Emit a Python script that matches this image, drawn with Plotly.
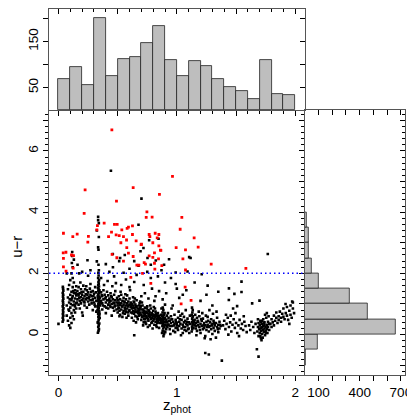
import plotly.graph_objects as go

# z_phot histogram: bins of 0.1 from 0 to 2 (counts)
z_bin_left = [0.0, 0.1, 0.2, 0.3, 0.4, 0.5, 0.6, 0.7, 0.8, 0.9,
              1.0, 1.1, 1.2, 1.3, 1.4, 1.5, 1.6, 1.7, 1.8, 1.9]
z_counts = [69, 95, 55, 201, 75, 113, 117, 148, 185, 110,
            76, 108, 97, 69, 52, 42, 26, 110, 36, 34]
z_width = 0.1

# u-r histogram: bins of 0.5 from -1 to 7 (counts)
ur_bin_low = [-1.0, -0.5, 0.0, 0.5, 1.0, 1.5, 2.0, 2.5,
              3.0, 3.5, 4.0, 4.5, 5.0, 5.5, 6.0, 6.5]
ur_counts = [5, 95, 664, 457, 331, 102, 54, 27, 32, 15, 3, 3, 2, 0, 0, 1]
ur_width = 0.5

ur_cut = 2.0

# scatter points (z_phot, u-r), read region by region
streak_004 = [(0.0, 0.35), (0.035, 0.42), (0.04, 0.48), (0.036, 0.55), (0.041, 0.61), (0.037, 0.67),
              (0.04, 0.73), (0.038, 0.80), (0.042, 0.86), (0.036, 0.92), (0.04, 0.98), (0.039, 1.05),
              (0.037, 1.11), (0.041, 1.17), (0.038, 1.24), (0.04, 1.30), (0.036, 1.36), (0.041, 1.43),
              (0.039, 1.50), (0.037, 1.56)]
cloud_010 = [(0.07, 0.62), (0.07, 0.95), (0.08, 1.21), (0.08, 0.45), (0.08, 1.48), (0.09, 0.30), (0.09, 0.78),
             (0.09, 1.05), (0.09, 1.62), (0.10, 0.22), (0.10, 0.55), (0.10, 0.88), (0.10, 1.30), (0.10, 1.78),
             (0.11, 0.70), (0.11, 1.12), (0.11, 1.40), (0.11, 0.38), (0.11, 2.00), (0.12, 0.96), (0.12, 1.25),
             (0.12, 0.60), (0.12, 1.55), (0.12, 1.85), (0.13, 0.80), (0.13, 1.08), (0.13, 1.35), (0.13, 1.70),
             (0.13, 0.50), (0.14, 1.18), (0.14, 0.92), (0.14, 1.45), (0.14, 0.72), (0.15, 1.28), (0.15, 1.02),
             (0.15, 1.58), (0.15, 0.85), (0.105, 1.00), (0.115, 1.20), (0.125, 1.42), (0.095, 1.15),
             (0.135, 0.98), (0.085, 0.82), (0.145, 1.36), (0.12, 2.20), (0.13, 2.45)]
band_025 = [(0.16, 1.15), (0.16, 1.42), (0.17, 0.98), (0.17, 1.28), (0.17, 1.55), (0.18, 1.10), (0.18, 1.35),
            (0.18, 0.85), (0.19, 1.22), (0.19, 1.48), (0.19, 1.02), (0.20, 1.30), (0.20, 1.12), (0.20, 0.72),
            (0.21, 1.40), (0.21, 1.18), (0.21, 1.60), (0.22, 0.95), (0.22, 1.25), (0.22, 1.05), (0.23, 1.32),
            (0.23, 1.15), (0.24, 1.45), (0.24, 0.88), (0.24, 1.20), (0.25, 1.08), (0.25, 1.38), (0.25, 1.92),
            (0.26, 1.22), (0.26, 0.98), (0.27, 1.30), (0.27, 1.12), (0.27, 1.65), (0.28, 1.02), (0.28, 1.25),
            (0.29, 0.80), (0.29, 1.15), (0.29, 1.42), (0.30, 1.05), (0.30, 1.33), (0.31, 0.92), (0.31, 1.20),
            (0.31, 1.55), (0.32, 1.10), (0.32, 0.75), (0.185, 1.70), (0.235, 1.58), (0.205, 0.62),
            (0.265, 1.50), (0.175, 2.00)]
streak_034 = [(0.333, 0.06), (0.338, 0.12), (0.342, 0.18), (0.336, 0.25), (0.340, 0.30), (0.345, 0.36),
              (0.334, 0.41), (0.339, 0.47), (0.343, 0.52), (0.337, 0.57), (0.341, 0.62), (0.335, 0.68),
              (0.338, 0.72), (0.344, 0.77), (0.336, 0.82), (0.340, 0.86), (0.333, 0.90), (0.342, 0.95),
              (0.337, 0.99), (0.339, 1.03), (0.345, 1.07), (0.334, 1.11), (0.341, 1.15), (0.336, 1.19),
              (0.343, 1.23), (0.338, 1.27), (0.335, 1.31), (0.340, 1.35), (0.344, 1.39), (0.337, 1.43),
              (0.339, 1.48), (0.334, 1.52), (0.342, 1.57), (0.336, 1.61), (0.340, 1.66), (0.338, 1.72),
              (0.343, 1.78), (0.335, 1.85), (0.339, 1.93), (0.337, 2.02), (0.341, 2.10), (0.332, 0.39),
              (0.346, 0.66), (0.331, 0.93), (0.347, 1.09), (0.332, 1.25), (0.346, 1.45), (0.348, 0.55),
              (0.330, 0.80), (0.347, 1.00)]
band_045 = [(0.35, 1.20), (0.35, 0.95), (0.36, 1.10), (0.36, 1.38), (0.37, 0.82), (0.37, 1.25), (0.37, 1.02),
            (0.38, 1.15), (0.38, 1.45), (0.39, 0.92), (0.39, 1.30), (0.40, 1.05), (0.40, 1.22), (0.40, 0.70),
            (0.41, 1.12), (0.41, 1.40), (0.42, 0.98), (0.42, 1.28), (0.42, 0.85), (0.43, 1.18), (0.43, 1.05),
            (0.44, 1.35), (0.44, 0.90), (0.44, 1.10), (0.45, 1.00), (0.45, 1.22), (0.45, 0.62), (0.46, 1.15),
            (0.46, 0.88), (0.47, 1.30), (0.47, 1.02), (0.47, 0.78), (0.48, 1.12), (0.48, 0.95), (0.48, 1.42),
            (0.49, 1.05), (0.49, 0.82), (0.385, 1.62), (0.415, 1.75), (0.455, 1.58), (0.47, 1.90),
            (0.43, 2.05), (0.36, 1.85), (0.40, 2.30), (0.485, 1.68)]
band_060 = [(0.50, 0.95), (0.50, 1.12), (0.50, 0.72), (0.51, 0.88), (0.51, 1.05), (0.51, 1.25), (0.52, 0.98),
            (0.52, 0.65), (0.52, 1.15), (0.53, 0.82), (0.53, 1.02), (0.53, 1.30), (0.54, 0.92), (0.54, 0.58),
            (0.54, 1.10), (0.55, 0.78), (0.55, 0.98), (0.55, 1.20), (0.56, 0.88), (0.56, 1.05), (0.56, 0.68),
            (0.57, 0.95), (0.57, 1.15), (0.57, 0.75), (0.58, 0.85), (0.58, 1.02), (0.58, 1.28), (0.59, 0.92),
            (0.59, 0.62), (0.59, 1.08), (0.60, 0.80), (0.60, 0.98), (0.60, 1.18), (0.61, 0.72), (0.61, 0.90),
            (0.61, 1.05), (0.62, 0.85), (0.62, 0.55), (0.62, 1.00), (0.63, 0.78), (0.63, 0.95), (0.63, 1.22),
            (0.64, 0.88), (0.64, 0.68), (0.64, 1.05), (0.65, 0.82), (0.65, 0.60), (0.65, 0.98), (0.66, 0.75),
            (0.66, 0.92), (0.66, 1.12), (0.67, 0.85), (0.67, 0.50), (0.67, 0.70), (0.68, 0.80), (0.68, 0.95),
            (0.68, 0.62), (0.69, 0.72), (0.69, 0.88), (0.69, 1.08), (0.505, 0.85), (0.525, 1.40),
            (0.545, 0.70), (0.565, 1.32), (0.585, 0.72), (0.605, 1.45), (0.625, 0.70), (0.645, 1.18),
            (0.665, 0.58), (0.685, 1.02), (0.515, 0.60), (0.575, 0.55), (0.635, 0.45), (0.655, 0.40),
            (0.53, 1.62), (0.57, 1.80), (0.60, 1.55), (0.64, 1.72), (0.66, 1.95), (0.55, 2.02), (0.64, -0.02)]
band_078 = [(0.70, 0.65), (0.70, 0.82), (0.70, 0.48), (0.71, 0.72), (0.71, 0.58), (0.71, 0.95), (0.72, 0.62),
            (0.72, 0.78), (0.72, 0.40), (0.73, 0.68), (0.73, 0.52), (0.73, 0.88), (0.74, 0.60), (0.74, 0.75),
            (0.74, 0.35), (0.75, 0.55), (0.75, 0.70), (0.75, 0.92), (0.76, 0.62), (0.76, 0.45), (0.76, 0.80),
            (0.77, 0.58), (0.77, 0.72), (0.77, 0.30), (0.78, 0.65), (0.78, 0.50), (0.78, 0.85), (0.79, 0.55),
            (0.79, 0.40), (0.79, 0.70), (0.80, 0.60), (0.80, 0.45), (0.80, 0.78), (0.81, 0.52), (0.81, 0.65),
            (0.81, 0.32), (0.82, 0.58), (0.82, 0.42), (0.82, 0.75), (0.83, 0.50), (0.83, 0.62), (0.83, 0.25),
            (0.84, 0.55), (0.84, 0.40), (0.84, 0.70), (0.85, 0.48), (0.85, 0.60), (0.85, 0.22), (0.86, 0.52),
            (0.86, 0.38), (0.705, 1.05), (0.725, 0.50), (0.745, 0.85), (0.765, 0.68), (0.785, 0.38),
            (0.805, 0.90), (0.825, 0.30), (0.845, 0.62), (0.715, 0.30), (0.735, 0.42), (0.755, 0.25),
            (0.775, 0.95), (0.795, 0.20), (0.815, 0.85), (0.835, 0.45), (0.70, 1.25), (0.73, 1.35),
            (0.76, 1.18), (0.79, 1.50), (0.82, 1.25), (0.85, 1.42), (0.72, 1.62), (0.78, 1.85), (0.84, 1.90),
            (0.81, 1.10)]
streak_089 = [(0.875, 0.05), (0.88, 0.12), (0.885, 0.20), (0.878, 0.28), (0.882, 0.35), (0.888, 0.42),
              (0.876, 0.50), (0.884, 0.58), (0.89, 0.65), (0.879, 0.72), (0.886, 0.80), (0.881, 0.88),
              (0.887, -0.05), (0.892, 0.02), (0.895, 0.25), (0.898, 0.40), (0.90, 0.55), (0.905, 0.32),
              (0.91, 0.18), (0.912, 0.48), (0.915, 0.62), (0.873, 0.38), (0.893, 0.10), (0.883, 0.45),
              (0.889, 0.52), (0.877, 0.62), (0.891, 0.30), (0.896, 0.70), (0.902, 0.08), (0.907, 0.42),
              (0.918, 0.28), (0.87, 0.85), (0.90, 0.98), (0.88, 1.15), (0.91, 1.35)]
band_102 = [(0.92, 0.40), (0.92, 0.25), (0.93, 0.55), (0.93, 0.32), (0.94, 0.18), (0.94, 0.45), (0.95, 0.38),
            (0.95, 0.60), (0.96, 0.28), (0.96, 0.50), (0.97, 0.12), (0.97, 0.42), (0.98, 0.35), (0.98, 0.65),
            (0.99, 0.22), (0.99, 0.48), (1.00, 0.38), (1.00, 0.30), (1.01, 0.55), (1.01, 0.15), (1.02, 0.42),
            (1.02, 0.28), (1.03, 0.62), (1.03, 0.35), (1.04, 0.20), (1.04, 0.48), (1.05, 0.32), (1.05, 0.05),
            (1.06, 0.40), (1.06, 0.58), (1.07, 0.25), (1.07, 0.45), (1.08, 0.35), (1.08, 0.12), (1.09, 0.52),
            (1.09, 0.30), (1.10, 0.40), (1.10, 0.20), (1.11, 0.62), (1.11, 0.35), (0.925, 0.70), (0.955, 0.85),
            (0.985, 0.08), (1.015, 0.75), (1.045, 0.68), (1.075, 0.80), (1.105, 0.05), (0.945, 0.02),
            (1.035, -0.02), (1.065, 0.15), (0.965, 0.95), (1.02, 1.20), (1.08, 1.45), (0.99, 1.65), (1.05, 1.30)]
streak_113 = [(1.125, 0.10), (1.13, 0.18), (1.128, 0.25), (1.132, 0.32), (1.127, 0.40), (1.135, 0.46),
              (1.129, 0.52), (1.133, 0.58), (1.126, 0.65), (1.131, 0.72), (1.134, 0.80), (1.128, 0.88),
              (1.138, 0.35), (1.14, 0.22), (1.136, 0.60)]
band_125 = [(1.15, 0.30), (1.15, 0.48), (1.16, 0.20), (1.16, 0.38), (1.17, 0.55), (1.17, 0.12), (1.18, 0.32),
            (1.18, 0.42), (1.19, 0.25), (1.19, 0.60), (1.20, 0.35), (1.20, 0.05), (1.21, 0.45), (1.21, 0.28),
            (1.22, 0.18), (1.22, 0.52), (1.23, 0.38), (1.23, 0.22), (1.24, 0.30), (1.24, -0.05), (1.25, 0.42),
            (1.25, 0.15), (1.26, 0.32), (1.26, 0.58), (1.27, 0.25), (1.27, 0.10), (1.28, 0.40), (1.28, 0.28),
            (1.29, 0.18), (1.29, 0.50), (1.30, 0.35), (1.30, 0.02), (1.31, 0.22), (1.31, 0.45), (1.32, 0.30),
            (1.32, 0.12), (1.33, 0.38), (1.33, -0.10), (1.34, 0.25), (1.34, 0.55), (1.35, 0.32), (1.35, 0.08),
            (1.36, 0.42), (1.36, 0.20), (1.37, 0.28), (1.155, 0.65), (1.185, 0.75), (1.215, 0.70),
            (1.245, 0.62), (1.275, 0.80), (1.305, 0.68), (1.335, 0.75), (1.165, -0.02), (1.235, -0.12),
            (1.285, -0.15), (1.24, -0.60), (1.27, -0.65), (1.38, -0.85), (1.30, 0.95), (1.20, 1.10), (1.25, 1.30)]
band_150 = [(1.39, 0.30), (1.40, 0.45), (1.41, 0.18), (1.42, 0.35), (1.43, 0.55), (1.44, 0.25), (1.45, 0.40),
            (1.46, 0.10), (1.47, 0.32), (1.48, 0.50), (1.49, 0.22), (1.50, 0.38), (1.51, 0.05), (1.52, 0.30),
            (1.53, 0.48), (1.54, 0.20), (1.55, 0.35), (1.56, 0.15), (1.57, 0.42), (1.58, 0.28), (1.59, 0.08),
            (1.415, 0.65), (1.455, 0.62), (1.495, 0.70), (1.525, -0.05), (1.435, 0.00), (1.565, 0.60),
            (1.475, 0.85), (1.44, 1.51), (1.486, 1.33), (1.546, 1.39), (1.546, 1.73), (1.439, 1.13),
            (1.509, 0.93)]
cluster_172 = [(1.61, 0.30), (1.62, 0.15), (1.63, 0.42), (1.645, 0.25), (1.655, 0.05), (1.665, 0.35),
               (1.68, 0.10), (1.685, 0.25), (1.69, -0.05), (1.69, 0.38), (1.695, 0.18), (1.70, 0.05),
               (1.70, 0.30), (1.705, 0.45), (1.71, 0.12), (1.71, -0.12), (1.715, 0.22), (1.72, 0.35),
               (1.72, 0.02), (1.725, 0.15), (1.73, 0.28), (1.73, 0.50), (1.735, 0.08), (1.74, 0.20),
               (1.74, 0.40), (1.745, -0.02), (1.75, 0.25), (1.75, 0.12), (1.755, 0.55), (1.76, 0.32),
               (1.76, 0.18), (1.765, 0.05), (1.77, 0.42), (1.77, 0.25), (1.775, 0.60), (1.78, 0.15),
               (1.78, 0.35), (1.70, 0.20), (1.71, 0.40), (1.72, 0.25), (1.73, 0.15), (1.74, 0.30),
               (1.715, -0.18), (1.685, 0.50), (1.676, -0.48), (1.69, -0.72), (1.698, 1.11), (1.636, 1.02),
               (1.768, 2.63), (1.76, 0.70), (1.745, 0.65), (1.72, 0.45), (1.705, -0.05), (1.735, 0.38),
               (1.755, 0.05), (1.725, -0.10)]
rise_190 = [(1.79, 0.35), (1.80, 0.25), (1.80, 0.50), (1.81, 0.40), (1.82, 0.62), (1.82, 0.30), (1.83, 0.45),
            (1.84, 0.55), (1.84, 0.72), (1.85, 0.38), (1.86, 0.60), (1.86, 0.48), (1.87, 0.75), (1.88, 0.55),
            (1.88, 0.42), (1.89, 0.68), (1.90, 0.58), (1.90, 0.85), (1.91, 0.50), (1.92, 0.70), (1.93, 0.62),
            (1.93, 0.90), (1.94, 0.48), (1.95, 0.78), (1.96, 0.65), (1.96, 0.95), (1.97, 0.55), (1.98, 0.85),
            (1.98, 1.05), (1.99, 0.70), (1.918, 1.00), (1.974, 1.08), (1.95, 0.35)]
band_fill = [(0.155, 1.05), (0.165, 1.32), (0.175, 1.20), (0.195, 1.38), (0.215, 1.08), (0.225, 1.48),
             (0.245, 1.30), (0.255, 1.18), (0.275, 1.40), (0.285, 1.12), (0.295, 1.25), (0.305, 0.98),
             (0.315, 1.38), (0.355, 1.05), (0.365, 1.28), (0.375, 0.95), (0.395, 1.18), (0.405, 0.88),
             (0.425, 1.12), (0.435, 0.95), (0.445, 1.25), (0.465, 1.05), (0.475, 0.92), (0.495, 1.20),
             (0.505, 1.02), (0.515, 0.78), (0.535, 0.92), (0.555, 1.08), (0.565, 0.82), (0.585, 0.95),
             (0.595, 0.78), (0.615, 0.98), (0.625, 0.88), (0.635, 1.08), (0.645, 0.75), (0.655, 0.90),
             (0.675, 0.78), (0.685, 0.68), (0.695, 0.92), (0.705, 0.58), (0.715, 0.82), (0.725, 0.70),
             (0.735, 0.60), (0.745, 0.72), (0.755, 0.50), (0.765, 0.78), (0.775, 0.62), (0.785, 0.55),
             (0.795, 0.65), (0.805, 0.50), (0.815, 0.60), (0.825, 0.68), (0.835, 0.38), (0.845, 0.50),
             (0.855, 0.55), (0.865, 0.45), (0.868, 0.65), (0.925, 0.32), (0.935, 0.45), (0.945, 0.28),
             (0.955, 0.50), (0.975, 0.30), (0.995, 0.40), (1.005, 0.22), (1.025, 0.50), (1.055, 0.25),
             (1.085, 0.42), (1.095, 0.18), (1.145, 0.40), (1.165, 0.28), (1.175, 0.45), (1.195, 0.15),
             (1.205, 0.50), (1.225, 0.30), (1.255, 0.25), (1.265, 0.45), (1.295, 0.30), (1.315, 0.38),
             (1.345, 0.18), (1.365, 0.32), (0.895, 0.50), (0.885, 0.30), (0.880, 0.55), (0.345, 0.70),
             (0.338, 1.20)]
black_high = [(0.443, 5.35), (0.701, 4.44), (0.335, 3.85), (0.335, 3.74), (0.341, 3.64), (0.324, 3.40),
              (0.341, 3.19), (0.335, 2.85), (0.676, 3.59), (0.766, 3.08), (0.718, 2.83), (0.845, 3.13),
              (0.693, 2.72), (0.459, 2.63), (0.116, 2.70), (0.116, 2.57), (1.104, 2.53), (0.338, 2.77),
              (0.324, 2.39), (0.338, 2.28), (0.245, 2.43), (0.113, 2.34), (0.161, 2.28), (0.513, 2.40),
              (0.521, 2.50), (0.676, 2.25), (0.752, 2.50), (0.780, 2.28), (0.822, 2.42), (0.892, 2.28),
              (0.934, 2.46), (0.99, 2.03), (1.09, 2.06), (1.116, 2.50), (1.21, 1.97), (0.60, 2.15),
              (0.87, 2.10), (0.95, 1.85), (1.15, 1.70), (1.26, 1.60), (1.35, 1.40), (1.00, 1.50),
              (0.90, 1.70), (0.75, 2.05), (0.56, 2.60), (0.64, 2.40), (0.46, 2.20), (0.27, 2.10),
              (0.20, 2.05), (0.07, 2.00)]
red_pts = [(0.451, 6.69), (0.963, 5.17), (0.225, 4.73), (0.631, 4.80), (0.853, 4.58), (0.490, 4.36),
           (0.217, 3.96), (0.747, 4.01), (0.741, 3.83), (0.791, 3.84), (1.042, 3.83), (0.386, 3.64),
           (0.473, 3.60), (0.496, 3.60), (0.324, 3.42), (0.329, 3.56), (0.042, 3.31), (0.121, 3.20),
           (0.158, 3.28), (0.253, 3.21), (0.248, 3.02), (0.423, 3.20), (0.448, 3.35), (0.487, 3.26),
           (0.513, 3.23), (0.535, 3.42), (0.549, 3.20), (0.580, 3.47), (0.591, 3.51), (0.625, 3.55),
           (0.527, 3.00), (0.575, 3.09), (0.577, 2.84), (0.625, 3.27), (0.656, 3.06), (0.698, 2.94),
           (0.766, 3.27), (0.772, 3.20), (0.817, 3.31), (0.848, 3.27), (0.834, 3.16), (0.797, 3.00),
           (0.811, 2.67), (0.848, 2.90), (0.865, 2.75), (0.994, 2.84), (1.028, 3.44), (1.146, 3.16),
           (1.180, 2.86), (1.073, 2.77), (0.040, 2.67), (0.063, 2.69), (0.110, 2.60), (0.127, 2.58),
           (0.453, 2.62), (0.493, 2.51), (0.591, 2.66), (0.631, 2.55), (0.766, 2.57), (0.549, 2.40),
           (0.662, 2.27), (0.710, 2.00), (0.735, 2.30), (0.797, 2.52), (0.811, 2.33), (0.873, 2.25),
           (0.845, 2.47), (0.780, 1.67), (0.611, 1.87), (1.051, 2.47), (1.073, 2.11), (1.070, 1.55),
           (1.036, 1.00), (1.120, 1.12), (1.290, 2.30), (1.583, 2.16), (0.042, 2.49), (0.042, 2.21),
           (0.064, 2.07), (0.124, 2.17), (0.701, 2.95), (0.724, 2.35), (0.679, 2.27), (0.861, 2.76),
           (0.814, 2.14)]

black_pts = (streak_004 + cloud_010 + band_025 + streak_034 + band_045 + band_060 + band_078
             + streak_089 + band_102 + streak_113 + band_125 + band_150 + cluster_172 + rise_190
             + band_fill + black_high)

FONT = "Liberation Sans, Arial, sans-serif"
LINE = "#555555"

fig = go.Figure()

# main scatter
fig.add_trace(go.Scatter(
    x=[p[0] for p in black_pts], y=[p[1] for p in black_pts],
    mode="markers", marker=dict(color="black", size=2.6, symbol="square"),
    xaxis="x", yaxis="y", hoverinfo="skip"))
fig.add_trace(go.Scatter(
    x=[p[0] for p in red_pts], y=[p[1] for p in red_pts],
    mode="markers", marker=dict(color="#ff0000", size=2.8, symbol="square"),
    xaxis="x", yaxis="y", hoverinfo="skip"))

# top histogram
fig.add_trace(go.Bar(
    x=[b + z_width / 2 for b in z_bin_left], y=z_counts, width=z_width,
    marker=dict(color="#bebebe", line=dict(color="#222222", width=0.8)),
    xaxis="x2", yaxis="y2", hoverinfo="skip"))

# right histogram
fig.add_trace(go.Bar(
    y=[b + ur_width / 2 for b in ur_bin_low], x=ur_counts, width=ur_width, orientation="h",
    marker=dict(color="#bebebe", line=dict(color="#222222", width=0.8)),
    xaxis="x3", yaxis="y3", hoverinfo="skip"))

# empty traces so the inside-tick overlay axes get drawn
for xa, ya in [("x5", "y2"), ("x2", "y5"), ("x6", "y3"), ("x3", "y6")]:
    fig.add_trace(go.Scatter(x=[], y=[], xaxis=xa, yaxis=ya, hoverinfo="skip"))

fig.add_shape(type="line", xref="x domain", yref="y", x0=0, x1=1, y0=ur_cut, y1=ur_cut,
              line=dict(color="#0000ff", width=1.5, dash="1.5px,3px"))

XR = [-0.08, 2.08]
YR = [-1.32, 7.32]
XD_MAIN = [0, 0.7183]
XD_SIDE = [0.7183, 1]
YD_MAIN = [0, 0.7227]
YD_TOP = [0.7227, 1]

ztick = dict(tickmode="array", tickvals=[0, 0.5, 1, 1.5, 2], ticklen=5, tickwidth=1, tickcolor="black",
             minor=dict(tickmode="linear", tick0=0, dtick=0.1, ticklen=3, tickcolor="black"))
urtick = dict(tickmode="array", tickvals=[-1, 0, 1, 2, 3, 4, 5, 6, 7], ticklen=5, tickwidth=1,
              tickcolor="black",
              minor=dict(tickmode="linear", tick0=0, dtick=0.2, ticklen=3, tickcolor="black"))
base = dict(showgrid=False, zeroline=False, showline=True, linecolor=LINE, linewidth=1,
            tickfont=dict(family=FONT, size=13.5, color="black"))


def minor_dir(d, ticks):
    d = dict(d)
    d["minor"] = dict(d["minor"], ticks=ticks)
    return d


# the page body adds an 8px offset, so margins are shifted by that much
fig.update_layout(
    width=415, height=415,
    margin=dict(l=41, r=18, t=1, b=48),
    paper_bgcolor="white", plot_bgcolor="white",
    showlegend=False, bargap=0,
    font=dict(family=FONT, size=13.5, color="black"),
    xaxis=dict(**base, **minor_dir(ztick, "outside"), domain=XD_MAIN, range=XR, anchor="y",
               ticks="outside", ticktext=["0", "", "1", "", "2"]),
    yaxis=dict(**base, **minor_dir(urtick, "outside"), domain=YD_MAIN, range=YR, anchor="x",
               ticks="outside", tickangle=-90,
               ticktext=["", "0", "", "2", "", "4", "", "6", ""]),
    xaxis2=dict(**base, **minor_dir(ztick, "outside"), domain=XD_MAIN, range=XR, anchor="y2",
                ticks="outside", showticklabels=False),
    yaxis2=dict(**base, domain=YD_TOP, range=[0, 221], anchor="x2", ticks="outside",
                tickmode="array", tickvals=[50, 100, 150, 200], ticktext=["50", "", "150", ""],
                ticklen=5, tickcolor="black", tickangle=-90),
    xaxis5=dict(**base, **minor_dir(ztick, "inside"), overlaying="x2", side="top", anchor="y2",
                range=XR, ticks="inside", showticklabels=False),
    yaxis5=dict(**base, overlaying="y2", side="right", anchor="x2", range=[0, 221],
                ticks="inside", tickmode="array", tickvals=[50, 100, 150, 200], ticklen=5,
                tickcolor="black", showticklabels=False),
    xaxis3=dict(**base, domain=XD_SIDE, range=[0, 730], anchor="y3", ticks="outside",
                tickmode="array", tickvals=[100, 200, 300, 400, 500, 600, 700],
                ticktext=["100", "", "", "400", "", "", "700"], ticklen=5, tickcolor="black"),
    yaxis3=dict(**base, **minor_dir(urtick, "outside"), domain=YD_MAIN, range=YR, anchor="x3",
                ticks="outside", showticklabels=False),
    xaxis6=dict(**base, overlaying="x3", side="top", anchor="y3", range=[0, 730], ticks="inside",
                tickmode="array", tickvals=[100, 200, 300, 400, 500, 600, 700], ticklen=5,
                tickcolor="black", showticklabels=False),
    yaxis6=dict(**base, **minor_dir(urtick, "inside"), overlaying="y3", side="right", anchor="x3",
                range=YR, ticks="inside", showticklabels=False),
    annotations=[
        dict(text="z<sub>phot</sub>", xref="paper", yref="paper", x=0.359, y=-0.083,
             showarrow=False, font=dict(family=FONT, size=15), xanchor="center", yanchor="middle"),
        dict(text="u\u2212r", xref="paper", yref="paper", x=-0.09, y=0.35, textangle=-90,
             showarrow=False, font=dict(family=FONT, size=15), xanchor="center", yanchor="middle"),
    ],
)

fig.write_html("out.html")
